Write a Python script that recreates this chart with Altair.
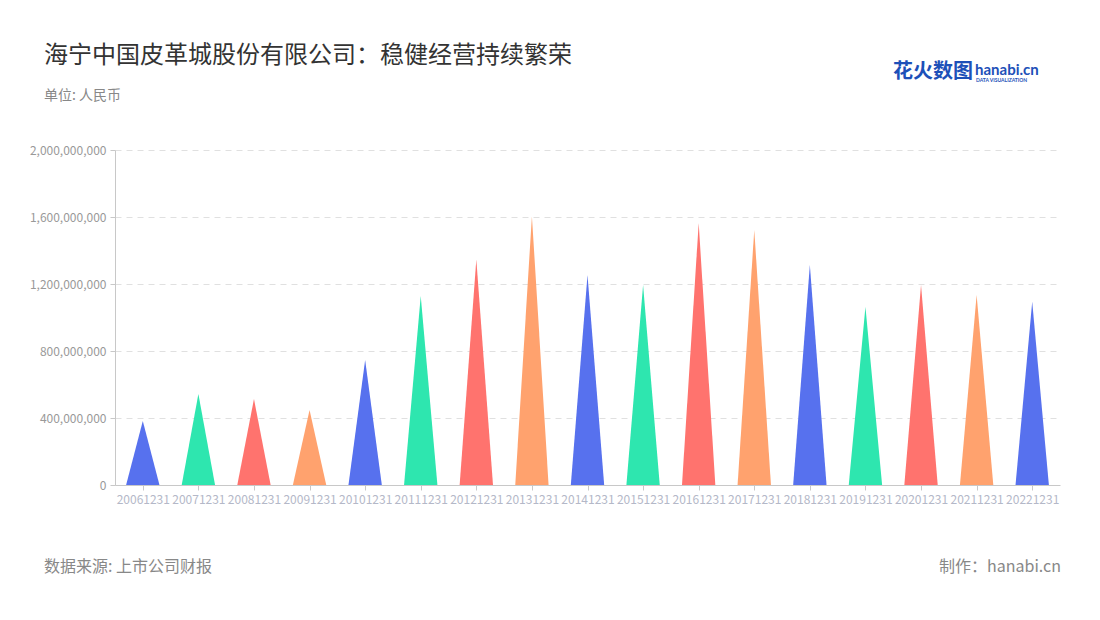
import altair as alt
import pandas as pd

labels = ["20061231", "20071231", "20081231", "20091231", "20101231", "20111231",
          "20121231", "20131231", "20141231", "20151231", "20161231", "20171231",
          "20181231", "20191231", "20201231", "20211231", "20221231"]
values = [382e6, 543e6, 513e6, 448e6, 746e6, 1128e6, 1347e6, 1605e6, 1254e6,
          1194e6, 1562e6, 1522e6, 1313e6, 1064e6, 1194e6, 1134e6, 1094e6]
palette = ["#5771EE", "#2EE6AF", "#FF736E", "#FFA26E"]

title = "海宁中国皮革城股份有限公司：稳健经营持续繁荣"
subtitle = "单位: 人民币"
source = "数据来源: 上市公司财报"
credit = "制作：hanabi.cn"

FONT = "Noto Sans CJK SC"
W, H = 945, 335
half = 0.3

rows = []
for i, (lab, v) in enumerate(zip(labels, values)):
    rows.append({"label": lab, "x": i - half, "y": 0})
    rows.append({"label": lab, "x": i, "y": v})
    rows.append({"label": lab, "x": i + half, "y": 0})
df = pd.DataFrame(rows)

colors = [palette[i % len(palette)] for i in range(len(labels))]
label_expr = "[" + ",".join("'%s'" % l for l in labels) + "][datum.value]"

tri = alt.Chart(df).mark_area(opacity=1).encode(
    x=alt.X("x:Q", scale=alt.Scale(domain=[-0.5, len(labels) - 0.5], nice=False, zero=False),
            axis=alt.Axis(values=list(range(len(labels))), labelExpr=label_expr, title=None,
                          grid=False, domainColor="#c8c8c8", tickColor="#c8c8c8", tickSize=5,
                          labelColor="#b4b8c8", labelFontSize=12, labelPadding=4,
                          labelFont=FONT, labelOverlap=False, labelFlush=False)),
    y=alt.Y("y:Q", stack=None, scale=alt.Scale(domain=[0, 2e9], nice=False),
            axis=alt.Axis(values=[0, 4e8, 8e8, 12e8, 16e8, 20e8], format=",d", title=None,
                          grid=True, gridColor="#e0e0e0", gridDash=[6, 5],
                          domainColor="#c8c8c8", tickColor="#c8c8c8", tickSize=5,
                          labelColor="#999999", labelFontSize=12, labelPadding=4,
                          labelFont=FONT)),
    color=alt.Color("label:N", scale=alt.Scale(domain=labels, range=colors), legend=None),
    detail="label:N",
)

def txt(s, x, y, size, color, align="left", weight="normal", font=FONT):
    return alt.Chart(pd.DataFrame({"t": [s]})).mark_text(
        align=align, baseline="middle", fontSize=size, color=color,
        fontWeight=weight, font=font
    ).encode(text="t:N", x=alt.value(x), y=alt.value(y))

ttl = txt(title, -71, -94, 24, "#333333")
sub = txt(subtitle, -71, -54, 14, "#888888")
src = txt(source, -71, 417, 16, "#888888")
cred = txt(credit, W + 1, 417, 16, "#888888", align="right")
logo1 = txt("花火数图", 778, -78, 20, "#1d50b8", weight="bold")
logo2 = txt("hanabi.cn", 860, -80, 15, "#1d50b8", weight="bold", font="Lato")
logo3 = txt("DATA VISUALIZATION", 861, -70, 5, "#1d50b8", weight="bold", font="Lato")

chart = alt.layer(tri, ttl, sub, src, cred, logo1, logo2, logo3).properties(
    width=W, height=H,
    autosize=alt.AutoSizeParams(type="none"),
    padding={"left": 107, "top": 142, "right": 32, "bottom": 127},
).configure_view(stroke=None)

chart.save("out.html", embed_options={"renderer": "svg", "actions": False})
